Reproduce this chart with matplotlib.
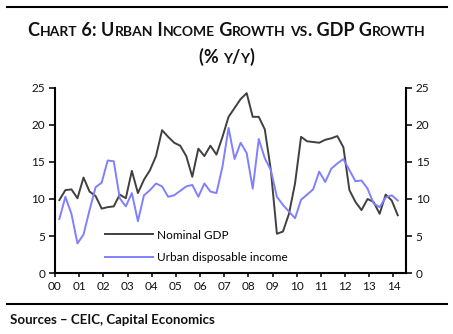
import numpy as np
import matplotlib
matplotlib.use("Agg")
import matplotlib.pyplot as plt
from matplotlib.lines import Line2D

plt.rcParams['font.family'] = ['Lato', 'DejaVu Sans']

# Quarterly data, 2000 Q1 - 2014 Q1 (% y/y)
nominal_gdp = [9.85, 11.2, 11.3, 10.1, 12.9, 11.0, 10.4, 8.7, 8.9, 9.0,
               10.6, 10.1, 13.8, 10.8, 12.6, 13.9, 15.8, 19.3, 18.4, 17.6,
               17.2, 15.8, 13.0, 16.8, 15.8, 17.2, 16.0, 18.4, 21.1, 22.3,
               23.5, 24.3, 21.1, 21.1, 19.4, 13.9, 5.3, 5.6, 8.0, 12.1,
               18.4, 17.8, 17.7, 17.6, 18.0, 18.2, 18.5, 17.0, 11.2, 9.6,
               8.5, 10.0, 9.6, 8.0, 10.6, 9.8, 7.8]
urban_income = [7.3, 10.3, 8.0, 4.0, 5.2, 8.5, 11.6, 12.2, 15.2, 15.1,
                10.1, 9.0, 10.8, 7.0, 10.5, 11.2, 12.1, 11.7, 10.3, 10.5,
                11.1, 11.7, 11.9, 10.3, 12.1, 11.0, 10.8, 14.4, 19.6, 15.4,
                17.6, 16.2, 11.4, 18.1, 15.5, 13.9, 10.3, 9.2, 8.3, 7.4,
                9.9, 10.6, 11.3, 13.7, 12.3, 14.1, 14.8, 15.4, 13.9, 12.4,
                12.5, 11.4, 9.4, 8.9, 10.2, 10.5, 9.8]
years = list(range(2000, 2015))
year_labels = ["%02d" % (y % 100) for y in years]
y_ticks = [0, 5, 10, 15, 20, 25]

x = 2000.18 + 0.25 * np.arange(len(nominal_gdp))


def small_caps(fig, text, cx, y, big, small, weight="bold"):
    # draw pseudo small caps: lowercase letters become smaller capitals
    runs = []
    for ch in text:
        low = ch.islower()
        if runs and runs[-1][1] == low:
            runs[-1][0] += ch
        else:
            runs.append([ch, low])
    renderer = fig.canvas.get_renderer()
    objs = []
    for s, low in runs:
        t = fig.text(0, y, s.upper(), fontsize=small if low else big,
                     fontweight=weight, va="baseline", ha="left",
                     color="#111111")
        objs.append(t)
    widths = [t.get_window_extent(renderer).width for t in objs]
    W = fig.bbox.width
    pos = cx * W - sum(widths) / 2
    for t, w in zip(objs, widths):
        t.set_x(pos / W)
        pos += w


fig = plt.figure(figsize=(4.53, 3.34), dpi=100)
ax = fig.add_axes([0.1214, 0.1826, 0.7748, 0.554])

ax.plot(x, nominal_gdp, color="#404040", lw=1.4, label="Nominal GDP")
ax.plot(x, urban_income, color="#8080ff", lw=1.4, label="Urban disposable income")

ax.set_xlim(2000, 2014.52)
ax.set_ylim(0, 25)
ax.set_xticks(years)
ax.set_xticklabels(year_labels)
ax.set_yticks(y_ticks)
ax.tick_params(axis="both", labelsize=8.5, colors="#111111", width=1.2,
               length=3, direction="out", pad=3)
ax.tick_params(axis="y", right=True, labelright=True, length=4)
ax.spines["top"].set_visible(False)
for s in ["left", "right", "bottom"]:
    ax.spines[s].set_linewidth(1.5)
    ax.spines[s].set_color("black")

ax.legend(loc="lower left", bbox_to_anchor=(0.13, 0.03), frameon=False,
          fontsize=8.5, handlelength=4.0, handletextpad=0.4, labelspacing=0.95,
          borderaxespad=0)

# header / footer rules
fig.add_artist(Line2D([0.016, 0.987], [0.979, 0.979], color="black", lw=1.5))
fig.add_artist(Line2D([0.016, 0.987], [0.09, 0.09], color="black", lw=1.5))

small_caps(fig, "Chart 6: Urban Income Growth vs. GDP Growth", 0.5, 0.893, 13, 10)
small_caps(fig, "(% y/y)", 0.5, 0.812, 13, 10)

fig.text(0.022, 0.03, "Sources \u2013 CEIC, Capital Economics", fontsize=9.5,
         fontweight="bold", va="baseline", ha="left", color="#111111")

fig.savefig("out.png", dpi=100)
